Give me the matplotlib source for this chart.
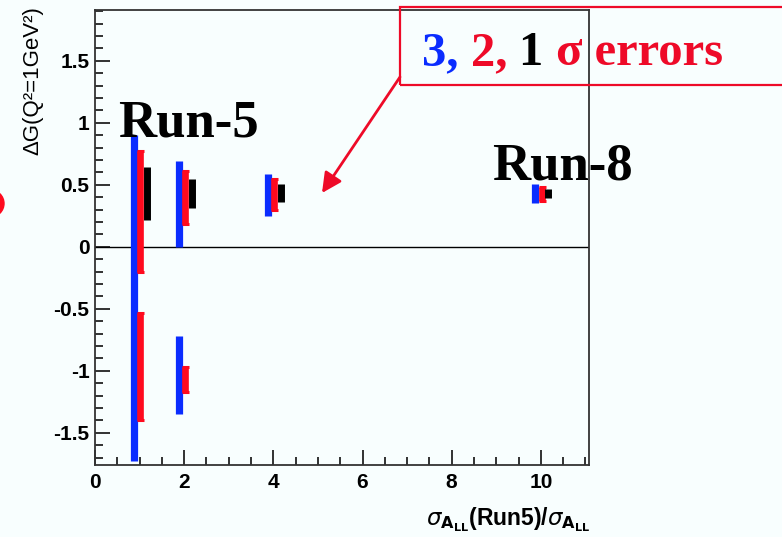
import numpy as np
import matplotlib
matplotlib.use("Agg")
import matplotlib.pyplot as plt
from matplotlib.patches import Rectangle, Ellipse
from matplotlib.transforms import IdentityTransform
from matplotlib.ticker import MultipleLocator

##### values
## x = sigma_ALL(Run5)/sigma_ALL for each scenario
ratio = [1, 2, 4, 10]

## 3 sigma (blue) intervals: (ratio, low, high)
s3_x = [1, 2, 2, 4, 10]
s3_lo = [-1.73, 0.00, -1.35, 0.25, 0.35]
s3_hi = [0.90, 0.69, -0.72, 0.59, 0.51]

## 2 sigma (red) intervals
s2_x = [1, 1, 2, 2, 4, 10]
s2_lo = [-0.20, -1.40, 0.18, -1.17, 0.30, 0.37]
s2_hi = [0.77, -0.53, 0.61, -0.97, 0.55, 0.48]

## 1 sigma (black) intervals
s1_x = [1, 2, 4, 10]
s1_lo = [0.22, 0.31, 0.36, 0.39]
s1_hi = [0.64, 0.55, 0.51, 0.47]

x_ticks = [0, 2, 4, 6, 8, 10]
y_ticks = [-1.5, -1, -0.5, 0, 0.5, 1, 1.5]
y_tick_labels = ['-1.5', '-1', '-0.5', '0', '0.5', '1', '1.5']

BLUE = '#0a2cff'
RED = '#ff0a1e'
TXTRED = '#ee0a28'
BG = '#f8fefe'

fig = plt.figure(figsize=(7.82, 5.37), dpi=100, facecolor=BG)
ax = fig.add_axes([95/782, 72/537, 494/782, 455/537])
ax.set_facecolor(BG)

## error bars, shifted so the three widths sit side by side
ax.vlines(np.array(s3_x) - 0.125, s3_lo, s3_hi, color=BLUE, lw=5.2, zorder=3)
x2 = np.array(s2_x) + 0.02
ax.vlines(x2, s2_lo, s2_hi, color=RED, lw=4.8, zorder=3)
## small end caps on the 2 sigma bars
ax.hlines(s2_lo + s2_hi, np.concatenate([x2, x2]) - 0.07, np.concatenate([x2, x2]) + 0.09,
          color=RED, lw=2.2, zorder=3)
ax.vlines(np.array(s1_x) + 0.165, s1_lo, s1_hi, color='black', lw=5.0, zorder=3)

ax.axhline(0, color='black', lw=1.0, zorder=2)

ax.set_xlim(0, 11.08)
ax.set_ylim(-1.76, 1.91)
ax.set_xticks(x_ticks)
ax.set_xticklabels([str(v) for v in x_ticks])
ax.set_yticks(y_ticks)
ax.set_yticklabels(y_tick_labels)
ax.xaxis.set_minor_locator(MultipleLocator(0.5))
ax.yaxis.set_minor_locator(MultipleLocator(0.1))
ax.tick_params(which='both', direction='in', width=1.3, color='#222222')
ax.tick_params(which='major', length=11)
ax.tick_params(which='minor', length=6)
ax.tick_params(axis='x', pad=6)
ax.tick_params(axis='y', pad=4)
for lab in ax.get_xticklabels() + ax.get_yticklabels():
    lab.set_fontfamily('Liberation Sans')
    lab.set_fontweight('bold')
    lab.set_fontsize(15)
for sp in ax.spines.values():
    sp.set_linewidth(1.3)
    sp.set_color('#333333')

## axis titles
fig.text(33/782, 1 - 6/537, 'ΔG(Q²=1GeV²)', rotation=90, ha='center', va='top',
         fontsize=16, family='Liberation Sans')
fig.text(590/782, 1 - 525/537,
         r'$\sigma_{\mathbf{A_{LL}}}$(Run5)/$\sigma_{\mathbf{A_{LL}}}$',
         ha='right', va='baseline', fontsize=16.5, family='Liberation Sans',
         fontweight='bold')

## run labels
ax.text(0.52, 0.89, 'Run-5', fontsize=38, family='Liberation Serif',
        fontweight='bold', va='baseline', ha='left', zorder=5)
ax.text(8.9, 0.54, 'Run-8', fontsize=38, family='Liberation Serif',
        fontweight='bold', va='baseline', ha='left', zorder=5)

## legend box with coloured words
fig.patches.append(Rectangle((400, 537 - 85), 400, 78, transform=IdentityTransform(),
                             fill=False, edgecolor=TXTRED, lw=1.6, zorder=6))
pieces = [('3, ', BLUE), ('2, ', TXTRED), ('1 ', 'black'), ('σ errors', TXTRED)]
renderer = fig.canvas.get_renderer()
xpos = 422
for s, c in pieces:
    t = fig.text(xpos/782, 1 - 65/537, s, color=c, fontsize=35,
                 family='Liberation Serif', fontweight='bold', va='baseline', ha='left')
    bb = t.get_window_extent(renderer=renderer)
    xpos = bb.x1

ax.annotate('', xy=(322, 537 - 193), xytext=(400, 537 - 77),
            xycoords='figure pixels', textcoords='figure pixels',
            arrowprops=dict(arrowstyle='-|>', color=TXTRED, lw=2.0,
                            mutation_scale=30, shrinkA=0, shrinkB=0))

## stray red blob clipped at left edge
fig.patches.append(Ellipse((-9.5, 537 - 203.5), 27, 27, transform=IdentityTransform(),
                           color=RED, zorder=6))

fig.savefig('out.png', dpi=100, facecolor=BG)
